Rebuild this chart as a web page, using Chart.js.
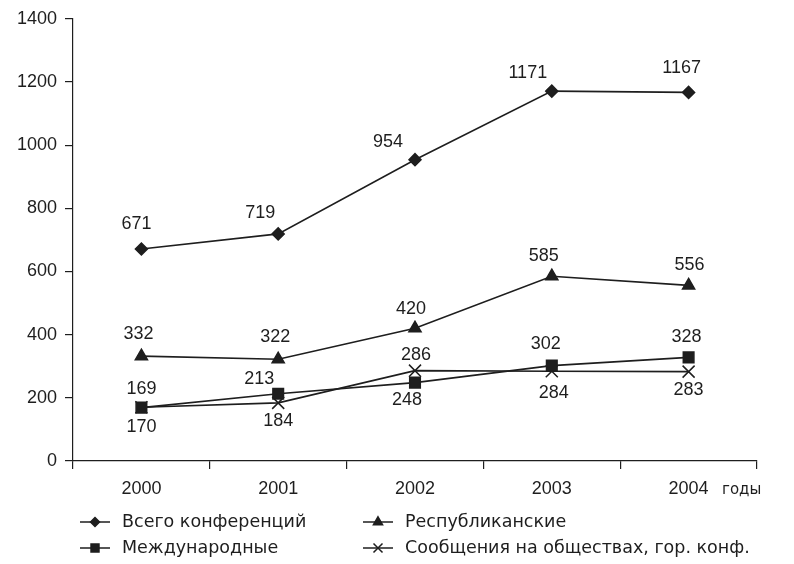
<!DOCTYPE html>
<html>
<head>
<meta charset="utf-8">
<script src="https://cdn.jsdelivr.net/npm/chart.js@4/dist/chart.umd.min.js"></script>
<style>
  html, body { margin: 0; padding: 0; background: #fff; }
  #wrap { width: 794px; height: 564px; }
</style>
</head>
<body>
<div id="wrap"><canvas id="c" width="794" height="564"></canvas></div>
<script>
// ---- data ----
const years = ['2000', '2001', '2002', '2003', '2004'];
const totalConf = [671, 719, 954, 1171, 1167];
const republican = [332, 322, 420, 585, 556];
const international = [169, 213, 248, 302, 328];
const reports = [170, 184, 286, 284, 283];
const seriesNames = ['Всего конференций', 'Республиканские', 'Международные', 'Сообщения на обществах, гор. конф.'];
const yTicks = { min: 0, max: 1400, step: 200 };
const xUnit = 'годы';

// ---- label placement (style) ----
const labelOffsets = [
  [[-5,-25], [-18,-21], [-27,-18], [-24,-18], [-7,-24]],
  [[-3,-22], [-3,-22], [-4,-19], [-8,-20], [1,-20]],
  [[0,-19], [-19,-15], [-8,17], [-6,-22], [-2,-20]],
  [[0,20], [0,18], [1,-16], [2,22], [0,18]]
];

const ink = '#1e1e1e';
const font = "'Liberation Sans', Arial, sans-serif";
const legendFont = "'DejaVu Sans', sans-serif";

const dataLabels = {
  id: 'dataLabels',
  afterDatasetsDraw(chart) {
    const ctx = chart.ctx;
    ctx.save();
    ctx.font = '18px ' + font;
    ctx.fillStyle = ink;
    ctx.textAlign = 'center';
    ctx.textBaseline = 'middle';
    chart.data.datasets.forEach((ds, di) => {
      const meta = chart.getDatasetMeta(di);
      meta.data.forEach((pt, i) => {
        const off = labelOffsets[di][i];
        ctx.fillText(String(ds.data[i]), pt.x + off[0], pt.y + off[1]);
      });
    });
    ctx.restore();
  }
};

const extras = {
  id: 'extras',
  afterDraw(chart) {
    const ctx = chart.ctx;
    ctx.save();
    ctx.font = '15px ' + legendFont;
    ctx.fillStyle = ink;
    ctx.textAlign = 'left';
    ctx.textBaseline = 'middle';
    ctx.fillText(xUnit, 722, 490);
    const cols = [80, 363];
    const rows = [522, 548];
    chart.data.datasets.forEach((ds, di) => {
      const x0 = cols[di % 2];
      const y = rows[Math.floor(di / 2)];
      ctx.strokeStyle = ink;
      ctx.lineWidth = 1.5;
      ctx.beginPath();
      ctx.moveTo(x0, y);
      ctx.lineTo(x0 + 30, y);
      ctx.stroke();
      const opts = {
        pointStyle: ds.pointStyle,
        radius: ds.pointRadius * 0.75,
        borderWidth: 1.5,
        rotation: 0
      };
      ctx.fillStyle = ink;
      ctx.strokeStyle = ink;
      Chart.helpers.drawPoint(ctx, opts, x0 + 15, y);
      ctx.font = '17.5px ' + legendFont;
      ctx.fillStyle = ink;
      ctx.textAlign = 'left';
      ctx.textBaseline = 'middle';
      ctx.fillText(ds.label, x0 + 42, y);
    });
    ctx.restore();
  }
};

function mkDs(label, data, style, r) {
  return {
    label, data,
    borderColor: ink, backgroundColor: ink,
    borderWidth: 1.6,
    pointStyle: style, pointRadius: r, pointHoverRadius: r,
    pointBorderColor: ink, pointBackgroundColor: ink, pointBorderWidth: 1.5,
    tension: 0, fill: false
  };
}

new Chart(document.getElementById('c'), {
  type: 'line',
  data: {
    labels: years,
    datasets: [
      mkDs(seriesNames[0], totalConf, 'rectRot', 6),
      mkDs(seriesNames[1], republican, 'triangle', 7),
      mkDs(seriesNames[2], international, 'rect', 7.5),
      mkDs(seriesNames[3], reports, 'crossRot', 8.5)
    ]
  },
  options: {
    responsive: false,
    animation: false,
    devicePixelRatio: 1,
    layout: { padding: { top: 15, right: 37, bottom: 63, left: 0 } },
    plugins: { legend: { display: false }, tooltip: { enabled: false } },
    scales: {
      x: {
        type: 'category',
        offset: true,
        grid: { offset: true, drawOnChartArea: false, drawTicks: true, tickLength: 8, color: ink, lineWidth: 1.2 },
        border: { display: true, color: ink, width: 1.2 },
        ticks: { color: ink, font: { family: font, size: 18 }, padding: 9, maxRotation: 0 },
        afterFit(s) { s.height = 40; }
      },
      y: {
        min: yTicks.min, max: yTicks.max,
        grid: { drawOnChartArea: false, drawTicks: true, tickLength: 8, color: ink, lineWidth: 1.2 },
        border: { display: true, color: ink, width: 1.2 },
        ticks: { stepSize: yTicks.step, color: ink, font: { family: font, size: 18 }, padding: 8,
                 callback: v => String(v) },
        afterFit(s) { s.width = 73; }
      }
    }
  },
  plugins: [dataLabels, extras]
});
</script>
</body>
</html>
